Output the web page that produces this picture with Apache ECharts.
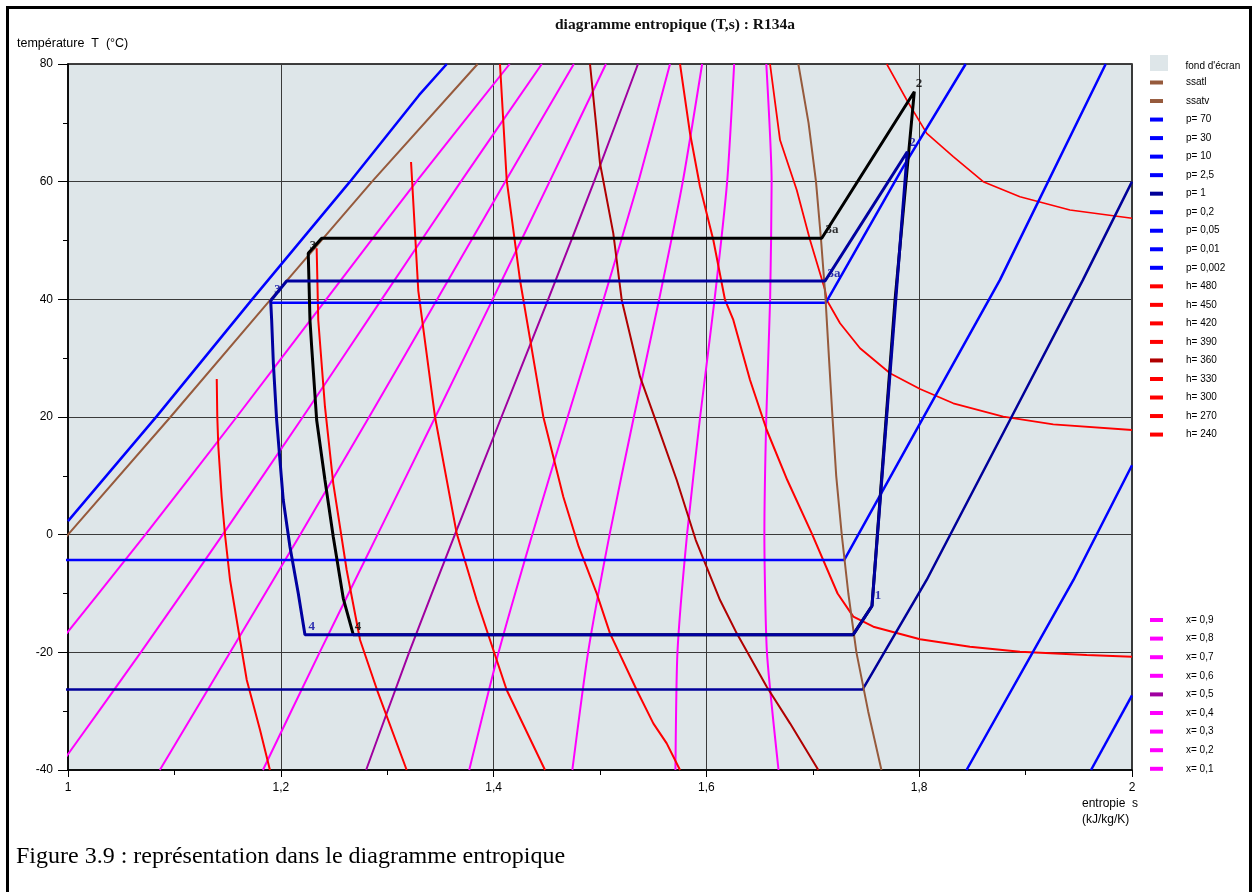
<!DOCTYPE html>
<html><head><meta charset="utf-8">
<script src="https://cdn.jsdelivr.net/npm/echarts@6/dist/echarts.min.js"></script>
<style>html,body{margin:0;padding:0;background:#fff}#c{width:1253px;height:892px}</style>
</head><body><div id="c"></div>
<script>
// ---- axis ticks ----
const xTicks = [1, 1.2, 1.4, 1.6, 1.8, 2];
const yTicks = [-40, -20, 0, 20, 40, 60, 80];

// ---- saturation curves [s, T] ----
const ssatl = [[0.7956,-40],[0.9002,-20],[1.0,0],[1.0963,20],[1.1905,40],[1.2857,60],[1.385,80]];
const ssatv = [[1.7645,-40],[1.752,-30],[1.741,-20],[1.7334,-10],[1.7272,0],[1.722,10],[1.7185,20],[1.7152,30],[1.712,40],[1.7078,50],[1.703,60],[1.696,70],[1.6864,80]];

// ---- isobars (bar) [s, T] ----
const p70 = [[1.0,2.3],[1.0833,20.1],[1.174,40.2],[1.265,60],[1.3299,74.7],[1.356,80]];
const p30 = [];
const p10 = [[1.1905,39.4],[1.7122,39.4],[1.785,62.5],[1.8437,80]];
const p2_5 = [[0.97,-4.3],[1.7296,-4.3],[1.8008,18.9],[1.8759,43.3],[1.9753,80]];
const p1 = [[0.86,-26.3],[1.7469,-26.3],[1.807,-7.7],[1.8869,20.05],[1.9539,43.3],[2.0,60]];
const p0_2 = [[1.8445,-40],[1.945,-7.7],[2.0,11.8]];
const p0_05 = [[1.9615,-40],[2.0,-27.3]];
const p0_01 = [];
const p0_002 = [];

// ---- isenthalps (kJ/kg) [s, T] ----
const h480 = [];
const h450 = [[1.7695,80],[1.7883,73.88],[1.8071,68.22],[1.832,64.24],[1.8602,60.0],[1.8947,57.44],[1.9417,55.18],[2.0,53.77]];
const h420 = [[1.6598,80],[1.6692,67.08],[1.6849,58.58],[1.6974,50.08],[1.7115,41.59],[1.7131,39.89],[1.7256,35.93],[1.7444,31.68],[1.7726,27.43],[1.8008,24.76],[1.832,22.33],[1.879,20.05],[1.926,18.76],[2.0,17.79]];
const h390 = [[1.5752,80],[1.5846,68.22],[1.594,59.14],[1.6065,50.08],[1.6175,39.89],[1.6253,36.49],[1.641,26.29],[1.6567,17.79],[1.676,9.29],[1.699,0.23],[1.7233,-10.0],[1.7381,-13.94],[1.7569,-15.64],[1.8008,-17.79],[1.8477,-19.04],[1.8947,-19.89],[1.9574,-20.45],[2.0,-20.75]];
const h360 = [[1.4906,80],[1.5,63.12],[1.5125,51.22],[1.5204,39.89],[1.5376,26.85],[1.5533,18.93],[1.5721,9.29],[1.59,-0.91],[1.6128,-11.11],[1.6285,-16.77],[1.6567,-25.84],[1.6786,-32.07],[1.7052,-40]];
const h330 = [[1.406,80],[1.4123,60.28],[1.4248,43.29],[1.4467,20.05],[1.4655,6.45],[1.48,-2.05],[1.4969,-9.97],[1.5094,-16.77],[1.5345,-26.41],[1.5501,-32.07],[1.5627,-35.47],[1.5752,-40]];
const h300 = [[1.3224,63.34],[1.3292,41.5],[1.3449,20.05],[1.3653,0.23],[1.3841,-11.11],[1.4029,-21.31],[1.4123,-26.41],[1.4483,-40]];
const h270 = [[1.2337,48.67],[1.2352,36.49],[1.2415,21.75],[1.2493,8.73],[1.2619,-6.01],[1.2745,-17.91],[1.2905,-26.41],[1.3183,-40]];
const h240 = [[1.1398,26.46],[1.1403,20.05],[1.1413,14.95],[1.1444,6.45],[1.1476,-0.06],[1.1523,-7.71],[1.1617,-17.91],[1.168,-24.7],[1.1805,-33.2],[1.1898,-40]];

// ---- quality lines: s at temperatures Tq ----
const Tq = [-40,-20,0,20,40,60,80];
const x09 = [1.6678,1.6569,1.6545,1.6563,1.6599,1.6613,1.6563];
const x08 = [1.5709,1.5728,1.5818,1.5941,1.6077,1.6195,1.6261];
const x07 = [1.4740,1.4888,1.5090,1.5318,1.5556,1.5778,1.5960];
const x06 = [1.3771,1.4047,1.4363,1.4696,1.5034,1.5361,1.5658];
const x05 = [1.2802,1.3206,1.3636,1.4074,1.4513,1.4944,1.5357];
const x04 = [1.1832,1.2365,1.2909,1.3452,1.3991,1.4526,1.5056];
const x03 = [1.0863,1.1524,1.2182,1.2830,1.3470,1.4109,1.4754];
const x02 = [0.9894,1.0684,1.1454,1.2207,1.2948,1.3692,1.4453];
const x01 = [0.8925,0.9843,1.0727,1.1585,1.2427,1.3274,1.4151];

// ---- refrigeration cycles [s, T] ----
const cycleBlack = [[1.7556,-12.13],[1.7773,39.89],[1.7954,75.29],[1.7084,50.37],[1.2384,50.37],[1.2258,47.82],[1.2274,36.49],[1.229,31.95],[1.2337,19.49],[1.2415,9.29],[1.2493,-0.35],[1.2587,-10.82],[1.2681,-17.0],[1.738,-17.0],[1.7556,-12.13]];
const cycleNavy = [[1.738,-17.0],[1.7556,-12.13],[1.7888,65.09],[1.7115,43.12],[1.2055,43.12],[1.1905,39.77],[1.1914,36.49],[1.193,29.13],[1.1961,19.49],[1.1992,12.69],[1.2023,5.89],[1.2086,-2.05],[1.2164,-9.97],[1.2227,-17.0],[1.738,-17.0]];
const labelsBlack = [['2',1.7998,76.6],['3a',1.718,51.8],['3',1.2303,49.1],['4',1.2726,-15.7]];
const labelsNavy = [['2',1.7937,66.7],['3a',1.7199,44.3],['3',1.1969,41.6],['4',1.229,-15.7],['1',1.7613,-10.4]];

// ---- styling table (built from arrays above) ----
const BROWN = '#965a3c', BLUE = '#0000ff', NAVY = '#000099', RED = '#ff0000', DRED = '#b00000', MAG = '#ff00ff', PURP = '#a000a0';
const q = arr => arr.map((s, i) => [s, Tq[i]]);
const curves = [
  ['ssatl', ssatl, BROWN, 2], ['ssatv', ssatv, BROWN, 2],
  ['p= 70', p70, BLUE, 2.5], ['p= 30', p30, BLUE, 2.5], ['p= 10', p10, BLUE, 2.5], ['p= 2,5', p2_5, BLUE, 2.5],
  ['p= 1', p1, NAVY, 2.5], ['p= 0,2', p0_2, BLUE, 2.5], ['p= 0,05', p0_05, BLUE, 2.5], ['p= 0,01', p0_01, BLUE, 2.5], ['p= 0,002', p0_002, BLUE, 2.5],
  ['h= 480', h480, RED, 2], ['h= 450', h450, RED, 1.6], ['h= 420', h420, RED, 1.8], ['h= 390', h390, RED, 2], ['h= 360', h360, DRED, 2],
  ['h= 330', h330, RED, 2], ['h= 300', h300, RED, 2], ['h= 270', h270, RED, 2], ['h= 240', h240, RED, 2],
  ['x= 0,9', q(x09), MAG, 2], ['x= 0,8', q(x08), MAG, 2], ['x= 0,7', q(x07), MAG, 2], ['x= 0,6', q(x06), MAG, 2], ['x= 0,5', q(x05), PURP, 2],
  ['x= 0,4', q(x04), MAG, 2], ['x= 0,3', q(x03), MAG, 2], ['x= 0,2', q(x02), MAG, 2], ['x= 0,1', q(x01), MAG, 2]
];
const legendMain = curves.slice(0, 20).map(c => c[0]);
const legendX = curves.slice(20).map(c => c[0]);

const series = [{ name: "fond d'écran", type: 'line', data: [], color: '#dee6e9' }];
// draw quality lines first, then isenthalps, isobars, saturation on top
const drawOrder = curves.slice(20).concat(curves.slice(11, 20), curves.slice(2, 11), curves.slice(0, 2));
drawOrder.forEach(c => series.push({
  name: c[0], type: 'line', data: c[1], color: c[2], showSymbol: false, symbol: 'none',
  smooth: c[0].startsWith('x') ? 0.2 : false,
  lineStyle: { color: c[2], width: c[3] }, z: 2, silent: true
}));
series.push({ type: 'line', data: cycleBlack, showSymbol: false, symbol: 'none', lineStyle: { color: '#000', width: 3 }, z: 3, silent: true });
series.push({ type: 'line', data: cycleNavy, showSymbol: false, symbol: 'none', lineStyle: { color: '#0000a0', width: 3 }, z: 3, silent: true });
const lbl = (arr, col) => ({
  type: 'scatter', symbolSize: 1, itemStyle: { color: 'rgba(0,0,0,0)' }, z: 4, silent: true,
  data: arr.map(a => ({ name: a[0], value: [a[1], a[2]] })),
  label: { show: true, position: 'inside', formatter: p => p.name, color: col, fontFamily: 'Liberation Serif', fontWeight: 'bold', fontSize: 13 }
});
series.push(lbl(labelsBlack, '#000'));
series.push(lbl(labelsNavy, '#0000a0'));

const fmtX = v => { const r = Math.round(v * 10) / 10; return xTicks.some(t => Math.abs(t - r) < 1e-6) ? String(r).replace('.', ',') : ''; };
const fmtY = v => { const r = Math.round(v); return yTicks.indexOf(r) >= 0 ? String(r) : ''; };

const legendText = (pad) => ({ fontSize: 10, lineHeight: 12, color: '#000', fontFamily: 'Liberation Sans', padding: pad });

const chart = echarts.init(document.getElementById('c'), null, { renderer: 'canvas' });
chart.setOption({
  animation: false,
  backgroundColor: '#fff',
  textStyle: { fontFamily: 'Liberation Sans' },
  grid: { left: 68, right: 121, top: 64, bottom: 122, show: true, backgroundColor: '#dee6e9', borderColor: '#000', borderWidth: 1.5, containLabel: false, outerBoundsMode: 'none' },
  xAxis: {
    type: 'value', min: 1, max: 2, interval: 0.2,
    axisLine: { show: true, onZero: false, lineStyle: { color: '#000', width: 1.5 } },
    axisTick: { show: true, length: 7, lineStyle: { color: '#000' } },
    minorTick: { show: true, splitNumber: 2, length: 5, lineStyle: { color: '#000' } },
    splitLine: { show: true, lineStyle: { color: '#3a3a3a', width: 1 } },
    axisLabel: { formatter: fmtX, fontSize: 12, color: '#000', margin: 12, fontFamily: 'Liberation Sans' }
  },
  yAxis: {
    type: 'value', min: -40, max: 80, interval: 20,
    axisLine: { show: true, onZero: false, lineStyle: { color: '#000', width: 1.5 } },
    axisTick: { show: true, length: 10, lineStyle: { color: '#000' } },
    minorTick: { show: true, splitNumber: 2, length: 5, lineStyle: { color: '#000' } },
    splitLine: { show: true, lineStyle: { color: '#3a3a3a', width: 1 } },
    axisLabel: { formatter: fmtY, fontSize: 12, color: '#000', margin: 15, fontFamily: 'Liberation Sans' }
  },
  legend: [
    { orient: 'vertical', left: 1150, top: 55, padding: 0, itemWidth: 18, itemHeight: 22, itemGap: 0, selectedMode: false,
      data: [{ name: "fond d'écran", icon: 'path://M0,0H18V16H0Z M0,22H0.01V22.01H0Z' }],
      textStyle: legendText([0, 0, 0, 12.5]), itemStyle: { borderWidth: 0 } },
    { orient: 'vertical', left: 1150, top: 76.5, padding: 0, itemWidth: 13, itemHeight: 4, itemGap: 6.53, icon: 'rect', selectedMode: false,
      data: legendMain, textStyle: legendText([0, 0, 0, 18]), itemStyle: { borderWidth: 0 } },
    { orient: 'vertical', left: 1150, top: 614, padding: 0, itemWidth: 13, itemHeight: 4, itemGap: 6.6, icon: 'rect', selectedMode: false,
      data: legendX, textStyle: legendText([0, 0, 0, 18]), itemStyle: { borderWidth: 0 } }
  ],
  graphic: [
    { type: 'rect', shape: { x: 7.5, y: 7.5, width: 1243, height: 900 }, style: { fill: 'none', stroke: '#000', lineWidth: 3 }, silent: true, z: 10 },
    { type: 'text', x: 675, y: 25, silent: true, style: { text: 'diagramme entropique (T,s) : R134a', font: 'bold 15.5px "Liberation Serif"', fill: '#111', align: 'center', verticalAlign: 'middle' } },
    { type: 'text', x: 17, y: 44, silent: true, style: { text: 'température  T  (°C)', font: '12.5px "Liberation Sans"', fill: '#000', align: 'left', verticalAlign: 'middle' } },
    { type: 'text', x: 1082, y: 803.5, silent: true, style: { text: 'entropie  s', font: '12px "Liberation Sans"', fill: '#000', align: 'left', verticalAlign: 'middle' } },
    { type: 'text', x: 1082, y: 819.5, silent: true, style: { text: '(kJ/kg/K)', font: '12px "Liberation Sans"', fill: '#000', align: 'left', verticalAlign: 'middle' } },
    { type: 'text', x: 16, y: 857, silent: true, style: { text: 'Figure 3.9 : représentation dans le diagramme entropique', font: '24px "Liberation Serif"', fill: '#000', align: 'left', verticalAlign: 'middle' } }
  ],
  series: series
});
</script>
</body></html>
